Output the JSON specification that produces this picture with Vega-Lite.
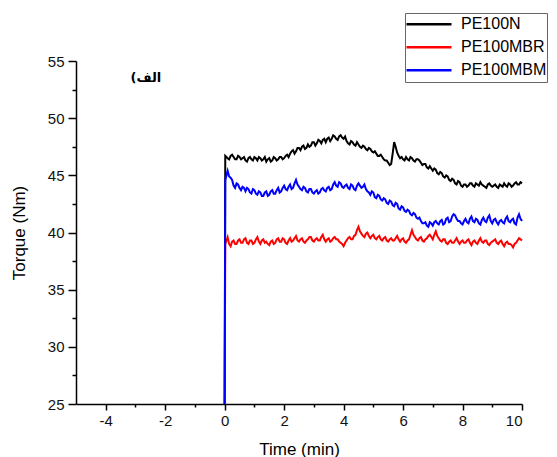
{
"$schema": "https://vega.github.io/schema/vega-lite/v6.json",
"width": 446, "height": 343,
"autosize": {"type": "none"},
"padding": {"left": 76, "top": 61, "right": 35, "bottom": 53},
"background": "white",
"config": {"view": {"stroke": null}, "font": "Liberation Sans"},
"datasets": {
"torque": [
{"t":0,"PE100N":25,"PE100MBR":25,"PE100MBM":25},
{"t":0.02,"PE100N":46.7,"PE100MBR":39.0,"PE100MBM":44.6},
{"t":0.1,"PE100N":46.5,"PE100MBR":39.6,"PE100MBM":45.4},
{"t":0.2,"PE100N":46.7,"PE100MBR":38.8,"PE100MBM":44.8},
{"t":0.3,"PE100N":46.6,"PE100MBR":39.3,"PE100MBM":44.1},
{"t":0.4,"PE100N":46.4,"PE100MBR":39.0,"PE100MBM":44.3},
{"t":0.5,"PE100N":46.6,"PE100MBR":39.4,"PE100MBM":43.9},
{"t":0.6,"PE100N":46.5,"PE100MBR":39.1,"PE100MBM":44.0},
{"t":0.7,"PE100N":46.3,"PE100MBR":39.5,"PE100MBM":43.6},
{"t":0.8,"PE100N":46.5,"PE100MBR":39.0,"PE100MBM":43.8},
{"t":0.9,"PE100N":46.4,"PE100MBR":39.3,"PE100MBM":43.4},
{"t":1.0,"PE100N":46.6,"PE100MBR":39.1,"PE100MBM":43.7},
{"t":1.1,"PE100N":46.3,"PE100MBR":39.6,"PE100MBM":43.3},
{"t":1.2,"PE100N":46.5,"PE100MBR":39.0,"PE100MBM":43.5},
{"t":1.3,"PE100N":46.4,"PE100MBR":39.4,"PE100MBM":43.2},
{"t":1.4,"PE100N":46.2,"PE100MBR":39.2,"PE100MBM":43.6},
{"t":1.5,"PE100N":46.5,"PE100MBR":38.9,"PE100MBM":43.3},
{"t":1.6,"PE100N":46.3,"PE100MBR":39.3,"PE100MBM":43.7},
{"t":1.7,"PE100N":46.5,"PE100MBR":39.1,"PE100MBM":43.4},
{"t":1.8,"PE100N":46.4,"PE100MBR":39.5,"PE100MBM":43.9},
{"t":1.9,"PE100N":46.6,"PE100MBR":39.2,"PE100MBM":43.6},
{"t":2.0,"PE100N":46.5,"PE100MBR":39.4,"PE100MBM":44.1},
{"t":2.1,"PE100N":46.8,"PE100MBR":39.0,"PE100MBM":43.7},
{"t":2.2,"PE100N":46.9,"PE100MBR":39.5,"PE100MBM":44.2},
{"t":2.3,"PE100N":47.2,"PE100MBR":39.3,"PE100MBM":43.9},
{"t":2.4,"PE100N":47.1,"PE100MBR":39.7,"PE100MBM":44.6},
{"t":2.5,"PE100N":47.4,"PE100MBR":39.2,"PE100MBM":44.0},
{"t":2.6,"PE100N":47.5,"PE100MBR":39.5,"PE100MBM":43.7},
{"t":2.7,"PE100N":47.3,"PE100MBR":39.1,"PE100MBM":43.9},
{"t":2.8,"PE100N":47.7,"PE100MBR":39.4,"PE100MBM":43.5},
{"t":2.9,"PE100N":47.6,"PE100MBR":39.6,"PE100MBM":43.8},
{"t":3.0,"PE100N":47.9,"PE100MBR":39.2,"PE100MBM":43.4},
{"t":3.1,"PE100N":47.8,"PE100MBR":39.5,"PE100MBM":43.7},
{"t":3.2,"PE100N":48.0,"PE100MBR":39.3,"PE100MBM":43.5},
{"t":3.3,"PE100N":48.1,"PE100MBR":39.8,"PE100MBM":43.9},
{"t":3.4,"PE100N":47.9,"PE100MBR":39.2,"PE100MBM":43.6},
{"t":3.5,"PE100N":48.3,"PE100MBR":39.5,"PE100MBM":44.0},
{"t":3.6,"PE100N":48.2,"PE100MBR":39.3,"PE100MBM":43.8},
{"t":3.7,"PE100N":48.4,"PE100MBR":39.6,"PE100MBM":44.4},
{"t":3.8,"PE100N":48.1,"PE100MBR":39.4,"PE100MBM":44.0},
{"t":3.9,"PE100N":48.5,"PE100MBR":39.1,"PE100MBM":44.3},
{"t":4.0,"PE100N":48.2,"PE100MBR":38.8,"PE100MBM":43.9},
{"t":4.1,"PE100N":48.0,"PE100MBR":39.3,"PE100MBM":44.2},
{"t":4.2,"PE100N":47.7,"PE100MBR":39.6,"PE100MBM":43.8},
{"t":4.3,"PE100N":47.9,"PE100MBR":39.4,"PE100MBM":44.1},
{"t":4.4,"PE100N":47.6,"PE100MBR":39.8,"PE100MBM":43.7},
{"t":4.5,"PE100N":47.7,"PE100MBR":40.5,"PE100MBM":44.3},
{"t":4.6,"PE100N":47.4,"PE100MBR":39.9,"PE100MBM":43.9},
{"t":4.7,"PE100N":47.5,"PE100MBR":39.6,"PE100MBM":44.2},
{"t":4.8,"PE100N":47.2,"PE100MBR":40.0,"PE100MBM":43.6},
{"t":4.9,"PE100N":47.3,"PE100MBR":39.5,"PE100MBM":43.3},
{"t":5.0,"PE100N":47.0,"PE100MBR":39.8,"PE100MBM":43.5},
{"t":5.1,"PE100N":46.9,"PE100MBR":39.4,"PE100MBM":43.0},
{"t":5.2,"PE100N":46.7,"PE100MBR":39.7,"PE100MBM":43.2},
{"t":5.3,"PE100N":46.6,"PE100MBR":39.3,"PE100MBM":42.8},
{"t":5.4,"PE100N":46.3,"PE100MBR":39.6,"PE100MBM":42.9},
{"t":5.5,"PE100N":46.1,"PE100MBR":39.2,"PE100MBM":42.5},
{"t":5.6,"PE100N":46.0,"PE100MBR":39.5,"PE100MBM":42.7},
{"t":5.7,"PE100N":47.9,"PE100MBR":39.3,"PE100MBM":42.3},
{"t":5.8,"PE100N":47.0,"PE100MBR":39.7,"PE100MBM":42.5},
{"t":5.9,"PE100N":46.5,"PE100MBR":39.2,"PE100MBM":42.0},
{"t":6.0,"PE100N":46.4,"PE100MBR":39.5,"PE100MBM":42.2},
{"t":6.1,"PE100N":46.6,"PE100MBR":39.1,"PE100MBM":41.8},
{"t":6.2,"PE100N":46.3,"PE100MBR":39.4,"PE100MBM":41.9},
{"t":6.3,"PE100N":46.5,"PE100MBR":40.2,"PE100MBM":41.5},
{"t":6.4,"PE100N":46.2,"PE100MBR":39.6,"PE100MBM":41.6},
{"t":6.5,"PE100N":46.4,"PE100MBR":39.3,"PE100MBM":41.2},
{"t":6.6,"PE100N":46.1,"PE100MBR":39.6,"PE100MBM":41.0},
{"t":6.7,"PE100N":46.0,"PE100MBR":39.2,"PE100MBM":40.8},
{"t":6.8,"PE100N":45.7,"PE100MBR":39.5,"PE100MBM":40.6},
{"t":6.9,"PE100N":45.8,"PE100MBR":39.8,"PE100MBM":40.9},
{"t":7.0,"PE100N":45.4,"PE100MBR":39.4,"PE100MBM":40.6},
{"t":7.1,"PE100N":45.5,"PE100MBR":40.1,"PE100MBM":41.0},
{"t":7.2,"PE100N":45.1,"PE100MBR":39.5,"PE100MBM":40.7},
{"t":7.3,"PE100N":45.2,"PE100MBR":39.2,"PE100MBM":41.1},
{"t":7.4,"PE100N":44.8,"PE100MBR":39.4,"PE100MBM":40.8},
{"t":7.5,"PE100N":44.9,"PE100MBR":39.0,"PE100MBM":41.3},
{"t":7.6,"PE100N":44.5,"PE100MBR":39.3,"PE100MBM":41.0},
{"t":7.7,"PE100N":44.6,"PE100MBR":39.1,"PE100MBM":41.6},
{"t":7.8,"PE100N":44.2,"PE100MBR":39.5,"PE100MBM":41.2},
{"t":7.9,"PE100N":44.4,"PE100MBR":39.0,"PE100MBM":41.0},
{"t":8.0,"PE100N":44.0,"PE100MBR":39.3,"PE100MBM":40.7},
{"t":8.1,"PE100N":44.2,"PE100MBR":39.1,"PE100MBM":41.2},
{"t":8.2,"PE100N":44.1,"PE100MBR":39.4,"PE100MBM":40.8},
{"t":8.3,"PE100N":44.3,"PE100MBR":38.9,"PE100MBM":41.4},
{"t":8.4,"PE100N":44.0,"PE100MBR":39.3,"PE100MBM":40.9},
{"t":8.5,"PE100N":44.2,"PE100MBR":39.0,"PE100MBM":41.1},
{"t":8.6,"PE100N":44.4,"PE100MBR":39.5,"PE100MBM":40.7},
{"t":8.7,"PE100N":44.1,"PE100MBR":39.1,"PE100MBM":41.3},
{"t":8.8,"PE100N":43.9,"PE100MBR":39.3,"PE100MBM":40.9},
{"t":8.9,"PE100N":44.3,"PE100MBR":38.9,"PE100MBM":41.5},
{"t":9.0,"PE100N":44.0,"PE100MBR":39.2,"PE100MBM":40.8},
{"t":9.1,"PE100N":44.2,"PE100MBR":39.4,"PE100MBM":41.2},
{"t":9.2,"PE100N":43.9,"PE100MBR":39.0,"PE100MBM":40.7},
{"t":9.3,"PE100N":44.1,"PE100MBR":39.3,"PE100MBM":41.1},
{"t":9.4,"PE100N":44.3,"PE100MBR":38.8,"PE100MBM":40.8},
{"t":9.5,"PE100N":44.0,"PE100MBR":39.2,"PE100MBM":41.4},
{"t":9.6,"PE100N":44.2,"PE100MBR":39.0,"PE100MBM":40.9},
{"t":9.7,"PE100N":44.1,"PE100MBR":38.7,"PE100MBM":41.2},
{"t":9.8,"PE100N":44.4,"PE100MBR":39.1,"PE100MBM":40.7},
{"t":9.9,"PE100N":44.2,"PE100MBR":39.5,"PE100MBM":41.6},
{"t":10.0,"PE100N":44.3,"PE100MBR":39.3,"PE100MBM":41.0},
{"t":0.15,"PE100N":46.4,"PE100MBR":39.0,"PE100MBM":44.9},
{"t":0.25,"PE100N":46.8,"PE100MBR":39.2,"PE100MBM":44.6},
{"t":0.35,"PE100N":46.4,"PE100MBR":39.0,"PE100MBM":43.9},
{"t":0.45,"PE100N":46.7,"PE100MBR":39.3,"PE100MBM":44.2},
{"t":0.55,"PE100N":46.4,"PE100MBR":39.1,"PE100MBM":43.7},
{"t":0.65,"PE100N":46.6,"PE100MBR":39.4,"PE100MBM":43.9},
{"t":0.75,"PE100N":46.2,"PE100MBR":39.1,"PE100MBM":43.9},
{"t":0.85,"PE100N":46.6,"PE100MBR":39.3,"PE100MBM":43.5},
{"t":0.95,"PE100N":46.3,"PE100MBR":39.0,"PE100MBM":43.8},
{"t":1.05,"PE100N":46.5,"PE100MBR":39.4,"PE100MBM":43.4},
{"t":1.15,"PE100N":46.6,"PE100MBR":39.2,"PE100MBM":43.6},
{"t":1.25,"PE100N":46.3,"PE100MBR":39.3,"PE100MBM":43.2},
{"t":1.35,"PE100N":46.6,"PE100MBR":39.1,"PE100MBM":43.5},
{"t":1.45,"PE100N":46.4,"PE100MBR":39.0,"PE100MBM":43.2},
{"t":1.55,"PE100N":46.2,"PE100MBR":39.2,"PE100MBM":43.6},
{"t":1.65,"PE100N":46.6,"PE100MBR":39.0,"PE100MBM":43.4},
{"t":1.75,"PE100N":46.3,"PE100MBR":39.4,"PE100MBM":43.7},
{"t":1.85,"PE100N":46.6,"PE100MBR":39.2,"PE100MBM":43.5},
{"t":1.95,"PE100N":46.4,"PE100MBR":39.5,"PE100MBM":43.9},
{"t":2.05,"PE100N":46.7,"PE100MBR":39.1,"PE100MBM":43.8},
{"t":2.15,"PE100N":46.6,"PE100MBR":39.3,"PE100MBM":44.0},
{"t":2.25,"PE100N":47.1,"PE100MBR":39.2,"PE100MBM":43.8},
{"t":2.35,"PE100N":46.9,"PE100MBR":39.5,"PE100MBM":44.3},
{"t":2.45,"PE100N":47.4,"PE100MBR":39.3,"PE100MBM":44.2},
{"t":2.55,"PE100N":47.2,"PE100MBR":39.4,"PE100MBM":43.8},
{"t":2.65,"PE100N":47.6,"PE100MBR":39.2,"PE100MBM":44.0},
{"t":2.75,"PE100N":47.4,"PE100MBR":39.3,"PE100MBM":43.6},
{"t":2.85,"PE100N":47.5,"PE100MBR":39.6,"PE100MBM":43.8},
{"t":2.95,"PE100N":47.9,"PE100MBR":39.3,"PE100MBM":43.5},
{"t":3.05,"PE100N":47.6,"PE100MBR":39.4,"PE100MBM":43.6},
{"t":3.15,"PE100N":48.1,"PE100MBR":39.3,"PE100MBM":43.4},
{"t":3.25,"PE100N":47.8,"PE100MBR":39.6,"PE100MBM":43.8},
{"t":3.35,"PE100N":48.2,"PE100MBR":39.4,"PE100MBM":43.7},
{"t":3.45,"PE100N":48.2,"PE100MBR":39.4,"PE100MBM":43.9},
{"t":3.55,"PE100N":48.0,"PE100MBR":39.2,"PE100MBM":43.7},
{"t":3.65,"PE100N":48.5,"PE100MBR":39.5,"PE100MBM":44.2},
{"t":3.75,"PE100N":48.2,"PE100MBR":39.4,"PE100MBM":44.1},
{"t":3.85,"PE100N":48.4,"PE100MBR":39.2,"PE100MBM":44.4},
{"t":3.95,"PE100N":48.3,"PE100MBR":39.0,"PE100MBM":44.0},
{"t":4.05,"PE100N":48.4,"PE100MBR":39.1,"PE100MBM":44.1},
{"t":4.15,"PE100N":47.8,"PE100MBR":39.5,"PE100MBM":43.9},
{"t":4.25,"PE100N":48.0,"PE100MBR":39.4,"PE100MBM":44.2},
{"t":4.35,"PE100N":47.7,"PE100MBR":39.7,"PE100MBM":43.8},
{"t":4.45,"PE100N":47.9,"PE100MBR":40.2,"PE100MBM":44.1},
{"t":4.55,"PE100N":47.5,"PE100MBR":40.1,"PE100MBM":44.1},
{"t":4.65,"PE100N":47.6,"PE100MBR":39.7,"PE100MBM":44.0},
{"t":4.75,"PE100N":47.3,"PE100MBR":39.9,"PE100MBM":43.8},
{"t":4.85,"PE100N":47.4,"PE100MBR":39.7,"PE100MBM":43.5},
{"t":4.95,"PE100N":47.1,"PE100MBR":39.7,"PE100MBM":43.6},
{"t":5.05,"PE100N":47.1,"PE100MBR":39.5,"PE100MBM":43.1},
{"t":5.15,"PE100N":46.7,"PE100MBR":39.6,"PE100MBM":43.3},
{"t":5.25,"PE100N":46.8,"PE100MBR":39.4,"PE100MBM":42.9},
{"t":5.35,"PE100N":46.4,"PE100MBR":39.5,"PE100MBM":43.0},
{"t":5.45,"PE100N":46.3,"PE100MBR":39.3,"PE100MBM":42.6},
{"t":5.55,"PE100N":45.9,"PE100MBR":39.4,"PE100MBM":42.8},
{"t":5.65,"PE100N":46.9,"PE100MBR":39.3,"PE100MBM":42.4},
{"t":5.75,"PE100N":47.5,"PE100MBR":39.5,"PE100MBM":42.6},
{"t":5.85,"PE100N":46.7,"PE100MBR":39.4,"PE100MBM":42.1},
{"t":5.95,"PE100N":46.6,"PE100MBR":39.4,"PE100MBM":42.3},
{"t":6.05,"PE100N":46.3,"PE100MBR":39.2,"PE100MBM":41.9},
{"t":6.15,"PE100N":46.4,"PE100MBR":39.3,"PE100MBM":42.0},
{"t":6.25,"PE100N":46.6,"PE100MBR":39.8,"PE100MBM":41.6},
{"t":6.35,"PE100N":46.3,"PE100MBR":39.8,"PE100MBM":41.7},
{"t":6.45,"PE100N":46.4,"PE100MBR":39.4,"PE100MBM":41.3},
{"t":6.55,"PE100N":46.3,"PE100MBR":39.5,"PE100MBM":41.3},
{"t":6.65,"PE100N":45.9,"PE100MBR":39.3,"PE100MBM":40.8},
{"t":6.75,"PE100N":46.0,"PE100MBR":39.4,"PE100MBM":40.9},
{"t":6.85,"PE100N":45.6,"PE100MBR":39.7,"PE100MBM":40.5},
{"t":6.95,"PE100N":45.6,"PE100MBR":39.6,"PE100MBM":40.8},
{"t":7.05,"PE100N":45.6,"PE100MBR":39.8,"PE100MBM":40.9},
{"t":7.15,"PE100N":45.2,"PE100MBR":39.7,"PE100MBM":40.8},
{"t":7.25,"PE100N":45.3,"PE100MBR":39.3,"PE100MBM":41.0},
{"t":7.35,"PE100N":44.9,"PE100MBR":39.4,"PE100MBM":40.7},
{"t":7.45,"PE100N":45.0,"PE100MBR":39.1,"PE100MBM":41.2},
{"t":7.55,"PE100N":44.6,"PE100MBR":39.2,"PE100MBM":40.9},
{"t":7.65,"PE100N":44.7,"PE100MBR":39.1,"PE100MBM":41.4},
{"t":7.75,"PE100N":44.3,"PE100MBR":39.3,"PE100MBM":41.5},
{"t":7.85,"PE100N":44.5,"PE100MBR":39.2,"PE100MBM":41.0},
{"t":7.95,"PE100N":44.1,"PE100MBR":39.2,"PE100MBM":40.8},
{"t":8.05,"PE100N":44.2,"PE100MBR":39.1,"PE100MBM":41.0},
{"t":8.15,"PE100N":44.0,"PE100MBR":39.3,"PE100MBM":40.9},
{"t":8.25,"PE100N":44.3,"PE100MBR":39.1,"PE100MBM":41.2},
{"t":8.35,"PE100N":44.1,"PE100MBR":39.2,"PE100MBM":41.0},
{"t":8.45,"PE100N":44.3,"PE100MBR":39.1,"PE100MBM":41.2},
{"t":8.55,"PE100N":44.1,"PE100MBR":39.3,"PE100MBM":40.8},
{"t":8.65,"PE100N":44.2,"PE100MBR":39.2,"PE100MBM":41.1},
{"t":8.75,"PE100N":44.0,"PE100MBR":39.3,"PE100MBM":41.0},
{"t":8.85,"PE100N":44.2,"PE100MBR":39.0,"PE100MBM":41.3},
{"t":8.95,"PE100N":44.1,"PE100MBR":39.1,"PE100MBM":41.0},
{"t":9.05,"PE100N":44.1,"PE100MBR":39.3,"PE100MBM":41.1},
{"t":9.15,"PE100N":44.0,"PE100MBR":39.1,"PE100MBM":40.9},
{"t":9.25,"PE100N":44.2,"PE100MBR":39.2,"PE100MBM":41.0},
{"t":9.35,"PE100N":44.0,"PE100MBR":39.0,"PE100MBM":40.9},
{"t":9.45,"PE100N":44.1,"PE100MBR":39.1,"PE100MBM":41.2},
{"t":9.55,"PE100N":44.3,"PE100MBR":39.0,"PE100MBM":41.0},
{"t":9.65,"PE100N":44.0,"PE100MBR":38.9,"PE100MBM":41.1},
{"t":9.75,"PE100N":44.3,"PE100MBR":39.0,"PE100MBM":40.8},
{"t":9.85,"PE100N":44.2,"PE100MBR":39.3,"PE100MBM":41.3},
{"t":9.95,"PE100N":44.4,"PE100MBR":39.4,"PE100MBM":41.2}
],
"note": [{"t": -2.65, "v": 53.5, "label": "(الف"}]
},
"layer": [
{
"data": {"name": "torque"},
"transform": [{"fold": ["PE100N", "PE100MBR", "PE100MBM"], "as": ["series", "v"]}],
"mark": {"type": "line", "strokeWidth": 2},
"encoding": {
"x": {"field": "t", "type": "quantitative",
"scale": {"domain": [-5, 10], "nice": false, "zero": false},
"axis": {"values": [-4, -2, 0, 2, 4, 6, 8, 10], "labelExpr": "toString(datum.value)", "title": "Time (min)", "grid": false,
"tickSize": 6, "tickWidth": 1.5, "tickColor": "#000", "domainColor": "#000", "domainWidth": 1.5,
"labelFontSize": 15, "labelColor": "#111", "labelPadding": 3, "titleFontSize": 17, "titleFontWeight": "normal", "titleColor": "#000", "titlePadding": 13}},
"y": {"field": "v", "type": "quantitative",
"scale": {"domain": [25, 55], "nice": false, "zero": false},
"axis": {"values": [25, 30, 35, 40, 45, 50, 55], "labelExpr": "toString(datum.value)", "title": "Torque (Nm)", "grid": false,
"tickSize": 8, "tickWidth": 1.5, "tickColor": "#000", "domainColor": "#000", "domainWidth": 1.5,
"labelFontSize": 15, "labelColor": "#111", "labelPadding": 4, "titleFontSize": 17, "titleFontWeight": "normal", "titleColor": "#000", "titlePadding": 19}},
"color": {"field": "series", "type": "nominal",
"scale": {"domain": ["PE100N", "PE100MBR", "PE100MBM"], "range": ["#000000", "#ff0000", "#0000ff"]},
"legend": {"orient": "none", "legendX": 329, "legendY": -48, "title": null,
"symbolType": "stroke", "symbolSize": 2025, "symbolStrokeWidth": 2.5, "clipHeight": 22.5, "rowPadding": 0,
"labelFontSize": 16, "labelOffset": 8, "labelColor": "#000", "labelFont": "Liberation Sans",
"strokeColor": "#666", "fillColor": "white", "padding": 0}}
}
},
{
"data": {"name": "note"},
"mark": {"type": "text", "fontSize": 13, "fontWeight": "bold", "font": "DejaVu Sans", "color": "#000"},
"encoding": {
"x": {"field": "t", "type": "quantitative",
"scale": {"domain": [-5, 10], "nice": false, "zero": false},
"axis": {"values": [-3, -1, 1, 3, 5, 7, 9], "orient": "bottom", "labels": false, "domain": false, "title": null, "grid": false, "tickSize": 3, "tickWidth": 1.5, "tickColor": "#000"}},
"y": {"field": "v", "type": "quantitative",
"scale": {"domain": [25, 55], "nice": false, "zero": false},
"axis": {"values": [27.5, 32.5, 37.5, 42.5, 47.5, 52.5], "orient": "left", "labels": false, "domain": false, "title": null, "grid": false, "tickSize": 4, "tickWidth": 1.5, "tickColor": "#000"}},
"text": {"field": "label"}
}
}
],
"resolve": {"axis": {"x": "independent", "y": "independent"}}
}
